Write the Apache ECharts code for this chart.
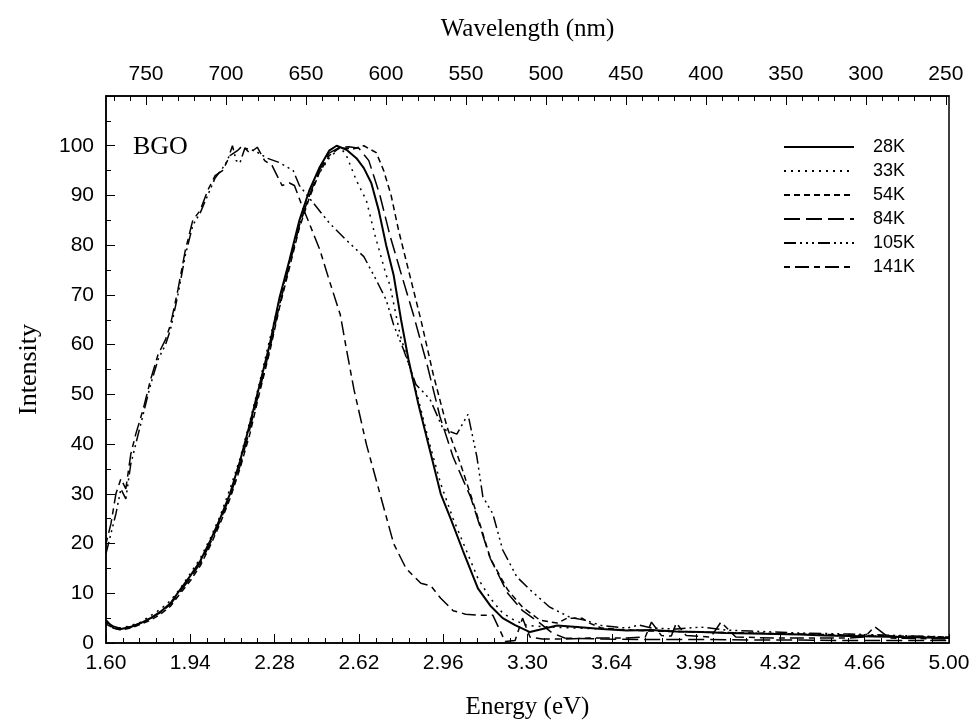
<!DOCTYPE html>
<html>
<head>
<meta charset="utf-8">
<script src="https://cdn.jsdelivr.net/npm/echarts@6/dist/echarts.min.js"></script>
<style>
  html, body { margin: 0; padding: 0; background: #fff; }
  #main { width: 976px; height: 728px; }
</style>
</head>
<body>
<div id="main"></div>
<script>
// tick labels
var energyTicks = [1.60, 1.94, 2.28, 2.62, 2.96, 3.30, 3.64, 3.98, 4.32, 4.66, 5.00];
var wavelengthTicks = [750, 700, 650, 600, 550, 500, 450, 400, 350, 300, 250];

// 28K (solid)
var e28 = [1.60,1.63,1.66,1.70,1.74,1.78,1.82,1.86,1.90,1.94,1.98,2.02,2.06,2.10,2.14,2.18,2.22,2.26,2.30,2.34,2.38,2.42,2.46,2.50,2.53,2.57,2.61,2.64,2.67,2.70,2.73,2.76,2.79,2.82,2.86,2.90,2.95,2.99,3.04,3.10,3.15,3.20,3.25,3.31,3.36,3.42,3.50,3.60,3.70,3.80,3.90,4.00,4.10,4.20,4.30,4.40,4.50,4.60,4.70,4.80,4.90,5.00];
var i28 = [4.6,3.0,2.8,3.2,4.0,5.0,6.3,8.0,10.8,13.5,16.5,20.5,25,30,36.5,44,52,60,69.5,77,85,91,95.5,99,100,99.2,97.5,95.5,92.5,87,80,74,65,57,48,40,30,25,18.5,11,7.5,5,3.6,2.2,2.8,3.5,3.2,2.8,2.5,2.6,2.3,2.2,2.0,1.9,1.8,1.7,1.5,1.4,1.3,1.2,1.1,1.0];

// 33K (dotted)
var e33 = [1.60,1.63,1.66,1.70,1.74,1.78,1.82,1.86,1.90,1.94,1.98,2.02,2.06,2.10,2.14,2.18,2.22,2.26,2.30,2.34,2.38,2.42,2.46,2.50,2.545,2.57,2.61,2.65,2.685,2.73,2.745,2.786,2.81,2.86,2.90,2.95,3.00,3.05,3.10,3.15,3.20,3.25,3.30,3.40,3.50,3.60,3.80,4.00,4.20,4.40,4.60,4.80,5.00];
var i33 = [4,3.2,3,3.5,4.2,5.5,6.8,8.5,11,14,17,21,25.5,31,37,44.5,52.5,61,69,76.5,84,90,94.5,97.5,99.7,98,93,89,82,74,72,62,58,49,41,32,25,19,13,9,6,4.5,3.5,3.2,3,2.8,2.5,2.2,2,1.8,1.5,1.3,1.1];

// 54K (short dash)
var e54 = [1.60,1.63,1.66,1.70,1.74,1.78,1.82,1.86,1.90,1.94,1.98,2.02,2.06,2.10,2.14,2.18,2.22,2.26,2.30,2.34,2.38,2.42,2.46,2.50,2.54,2.57,2.60,2.64,2.69,2.72,2.75,2.78,2.81,2.84,2.87,2.92,2.975,3.03,3.076,3.12,3.15,3.22,3.28,3.35,3.42,3.46,3.52,3.55,3.60,3.70,3.80,4.00,4.20,4.40,4.60,4.80,5.00];
var i54 = [3.8,3.0,2.6,3.0,3.8,4.6,5.8,7.4,10,12.5,15.5,19.5,24,29,35,42,50.5,58.5,67.5,75.5,83.5,89.5,94.5,98,99.5,99.5,99.4,100,98.6,95,90,83,77,71,65,54,43.5,36,29,22,17,10.7,7.2,4.6,4,5,5,4,3,2.6,2.4,2.2,2,1.8,1.6,1.4,1.2];

// 84K (long dash)
var e84 = [1.60,1.63,1.66,1.70,1.74,1.78,1.82,1.86,1.90,1.94,1.98,2.02,2.06,2.10,2.14,2.18,2.22,2.26,2.30,2.34,2.38,2.42,2.46,2.50,2.54,2.58,2.62,2.66,2.705,2.745,2.786,2.84,2.895,2.947,3.00,3.07,3.15,3.22,3.28,3.35,3.40,3.45,3.60,3.80,4.00,4.20,4.40,4.60,4.80,5.00];
var i84 = [4.2,3.4,2.9,3.3,4.1,5.0,6.1,7.8,10.4,13,16,20,24.5,29.5,35.5,43,51,59,68,76,84,90,95,98.5,99.6,99.8,99.5,97,90,82,75,66,56,45.5,37.4,29.4,17,10,6.5,4,2,1,0.8,0.7,0.7,0.6,0.6,0.5,0.5,0.5];

// 105K (dash-dot-dot)
var e105 = [1.60,1.62,1.64,1.66,1.68,1.70,1.72,1.75,1.78,1.81,1.84,1.86,1.89,1.92,1.95,1.98,2.01,2.04,2.07,2.09,2.11,2.125,2.14,2.16,2.20,2.25,2.30,2.355,2.38,2.436,2.50,2.57,2.64,2.69,2.73,2.76,2.80,2.85,2.907,2.96,3.015,3.06,3.096,3.12,3.16,3.20,3.257,3.31,3.39,3.47,3.53,3.60,3.70,3.75,3.80,3.90,4.00,4.10,4.20,4.40,4.60,4.80,5.00];
var i105 = [18,22,26,31,29,36,40,46,52,57,60,63,70,78,84,86.5,90,93.5,95.5,97,100,97,96.5,99.5,99,97.5,96.6,95,92,88.5,84.5,81,77.7,73,69,64,59,52,49,43,42,46,37.4,29.4,26,18.7,13.3,10.7,7.2,5.2,4.6,3.5,3,3.6,3,2.8,3.2,2.6,2.4,2,1.8,1.5,1.2];

// 141K (mixed dash)
var e141 = [1.60,1.62,1.64,1.66,1.68,1.70,1.72,1.75,1.78,1.81,1.84,1.86,1.89,1.92,1.95,1.98,2.01,2.04,2.07,2.10,2.13,2.15,2.18,2.21,2.24,2.27,2.31,2.34,2.36,2.39,2.415,2.463,2.50,2.545,2.57,2.60,2.65,2.705,2.76,2.81,2.87,2.91,2.95,3.00,3.05,3.10,3.16,3.21,3.25,3.28,3.31,3.36,3.45,3.55,3.70,3.775,3.80,3.84,3.88,3.90,3.94,4.04,4.08,4.14,4.30,4.60,4.66,4.70,4.76,5.00];
var i141 = [20,24,30,33,31,38,42,47,53,58,61,64,71,79,85,87,91,94,95,98,99,100,98.5,99.7,97,96,92,92.5,92,88,85,79,73,66,59,51,40,30,20,15,12,11.5,9,6.5,5.8,5.6,5.6,0.3,0.5,5,1.2,0.8,0.8,1,1,1.2,4.2,1.5,1.4,4,1.5,1.2,4.2,1.2,1,1,1.2,3.3,1,0.8];

var seriesNames = ['28K', '33K', '54K', '84K', '105K', '141K'];

function pairs(xs, ys) {
    return xs.map(function (x, k) { return [x, ys[k]]; });
}

// minor tick positions
var energyMinor = [];
for (var k = 0; k <= 50; k++) {
    if (k % 5 !== 0) energyMinor.push(+(1.6 + k * 0.068).toFixed(3));
}
var wavelengthMinor = [];
for (var w = 260; w <= 770; w += 10) {
    if (w % 50 !== 0) wavelengthMinor.push(w);
}

var black = '#000';
var sans = 'Liberation Sans';
var serif = 'Liberation Serif';

var dom = document.getElementById('main');
var myChart = echarts.init(dom);

function line(name, xs, ys, dash, width) {
    return {
        name: name,
        type: 'line',
        xAxisIndex: 0,
        yAxisIndex: 0,
        symbol: 'none',
        legendIcon: 'none',
        animation: false,
        data: pairs(xs, ys),
        itemStyle: { color: black },
        lineStyle: { color: black, width: width, type: dash }
    };
}

var option = {
    animation: false,
    backgroundColor: '#fff',
    grid: {
        left: 106, right: 27, top: 96, bottom: 85,
        show: true, borderColor: black, borderWidth: 1.5,
        backgroundColor: 'transparent'
    },
    legend: {
        orient: 'vertical',
        left: 778,
        top: 133,
        itemWidth: 70,
        itemHeight: 18,
        itemGap: 6,
        data: seriesNames,
        itemStyle: { opacity: 0 },
        textStyle: { fontFamily: sans, fontSize: 18, color: black, padding: [0, 0, 0, 14] }
    },
    graphic: [{
        type: 'text',
        left: 133,
        top: 134,
        style: { text: 'BGO', font: '26px "Liberation Serif"', fill: black }
    }],
    xAxis: [
        {
            type: 'value',
            position: 'bottom',
            min: 1.6, max: 5.0,
            name: 'Energy (eV)',
            nameLocation: 'middle',
            nameGap: 52,
            nameTextStyle: { fontFamily: serif, fontSize: 25, color: black },
            axisLine: { show: true, lineStyle: { color: black, width: 1.5 } },
            axisTick: { show: true, inside: true, length: 9, customValues: energyTicks, lineStyle: { color: black } },
            axisLabel: {
                customValues: energyTicks, margin: 10,
                fontFamily: sans, fontSize: 21, color: black,
                formatter: function (v) { return (+v).toFixed(2); }
            },
            splitLine: { show: false }
        },
        {
            type: 'value',
            position: 'bottom',
            min: 1.6, max: 5.0,
            axisLine: { show: false },
            axisTick: { show: true, inside: true, length: 5, customValues: energyMinor, lineStyle: { color: black } },
            axisLabel: { show: false },
            splitLine: { show: false }
        },
        {
            type: 'value',
            position: 'top',
            inverse: true,
            min: 248, max: 775,
            name: 'Wavelength (nm)',
            nameLocation: 'middle',
            nameGap: 54,
            nameTextStyle: { fontFamily: serif, fontSize: 25, color: black },
            axisLine: { show: true, lineStyle: { color: black, width: 1.5 } },
            axisTick: { show: true, inside: true, length: 9, customValues: wavelengthTicks, lineStyle: { color: black } },
            axisLabel: { customValues: wavelengthTicks, margin: 11, fontFamily: sans, fontSize: 21, color: black },
            splitLine: { show: false }
        },
        {
            type: 'value',
            position: 'top',
            inverse: true,
            min: 248, max: 775,
            axisLine: { show: false },
            axisTick: { show: true, inside: true, length: 5, customValues: wavelengthMinor, lineStyle: { color: black } },
            axisLabel: { show: false },
            splitLine: { show: false }
        }
    ],
    yAxis: [{
        type: 'value',
        min: 0, max: 110, interval: 10,
        name: 'Intensity',
        nameLocation: 'middle',
        nameGap: 64,
        nameTextStyle: { fontFamily: serif, fontSize: 26, color: black },
        axisLine: { show: true, lineStyle: { color: black, width: 1.5 } },
        axisTick: { show: true, inside: true, length: 9, lineStyle: { color: black } },
        minorTick: { show: true, splitNumber: 2, length: 5, lineStyle: { color: black } },
        axisLabel: {
            margin: 12, fontFamily: sans, fontSize: 21, color: black,
            formatter: function (v) { return v > 100 ? '' : v; }
        },
        splitLine: { show: false }
    }],
    series: [
        line('28K', e28, i28, 'solid', 2),
        line('33K', e33, i33, [2, 5], 1.5),
        line('54K', e54, i54, [6, 4], 1.5),
        line('84K', e84, i84, [16, 6], 1.5),
        line('105K', e105, i105, [12, 4, 2, 4, 2, 4, 2, 4], 1.5),
        line('141K', e141, i141, [6, 5, 14, 5], 1.5)
    ]
};

if (option && typeof option === 'object') {
    myChart.setOption(option, true);
}
</script>
</body>
</html>
